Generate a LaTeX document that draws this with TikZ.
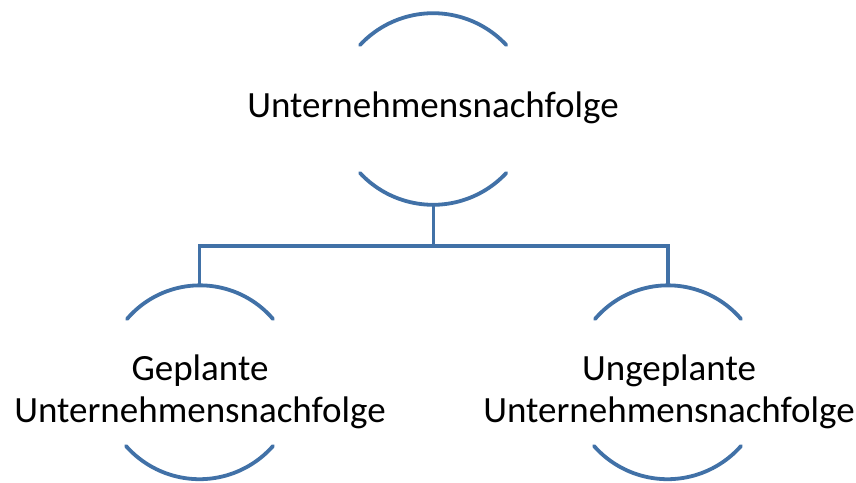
\documentclass[tikz,border=0pt]{standalone}
\usepackage{fontspec}
\setmainfont{Carlito}
\definecolor{arcblue}{RGB}{65,113,167}
\begin{document}
\begin{tikzpicture}[x=1pt,y=-1pt,
  arcline/.style={draw=arcblue,line width=3.8pt,line cap=round},
  conn/.style={draw=arcblue,line width=3.8pt},
  label/.style={font=\fontsize{37}{42}\selectfont,align=center,anchor=base,inner sep=0pt,text=black}]
\useasboundingbox (0,0) rectangle (856,482);
% top item
\draw[arcline] (360,45) arc[start angle=-137,end angle=-43,radius=100];
\draw[arcline] (360,173) arc[start angle=137,end angle=43,radius=100];
\node[label] (top) at (433,117) {Unternehmensnachfolge};
% left item
\draw[arcline] (127,319) arc[start angle=-139.5,end angle=-40.5,radius=96];
\draw[arcline] (126,446) arc[start angle=138.6,end angle=41.4,radius=98];
\node[label] (left) at (200,422) {Geplante\\Unternehmensnachfolge};
% right item
\draw[arcline] (595,319) arc[start angle=-139.5,end angle=-40.5,radius=96];
\draw[arcline] (594,446) arc[start angle=138.6,end angle=41.4,radius=98];
\node[label] (right) at (669,422) {Ungeplante\\Unternehmensnachfolge};
% connectors
\coordinate (tb) at (433.5,205);
\coordinate (hub) at (433.5,246);
\coordinate (lt) at (199.5,285);
\coordinate (rt) at (668,285);
\draw[conn] (tb) -- (hub);
\draw[conn] (hub) -| (lt);
\draw[conn] (hub) -| (rt);
\end{tikzpicture}
\end{document}
